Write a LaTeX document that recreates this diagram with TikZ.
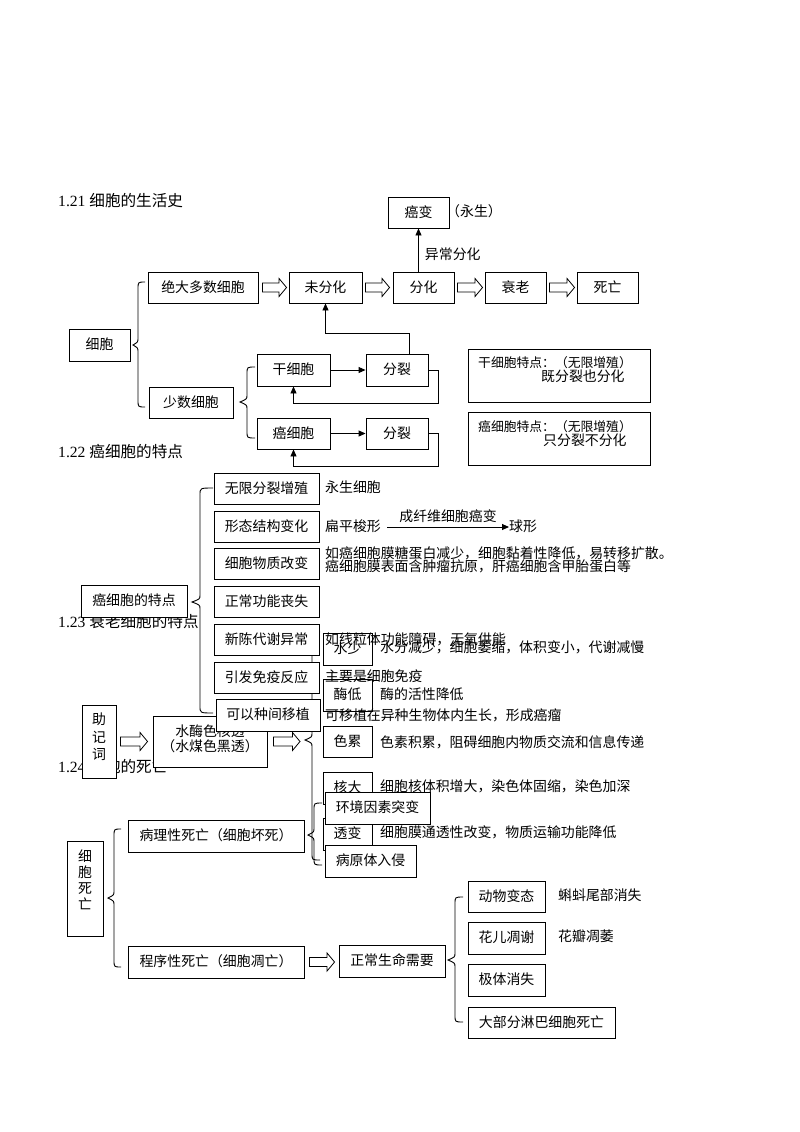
\documentclass[tikz,border=0pt]{standalone}
\usepackage{fontspec}
\setmainfont{Noto Sans CJK SC}
\newfontfamily\tnr{Liberation Serif}
\usetikzlibrary{calc,arrows.meta}
\newcommand\mkbox[6]{\node[box, minimum width={(#4-#2)*1pt}, minimum height={(#5-#3)*1pt}] (#1) at ({(#2+#4)/2},{(#3+#5)/2}) {#6};}
\newcommand\mybrace[6]{\draw[br] (#6,#4) .. controls (#3,#4) .. (#3,{#4+7}) -- (#3,{#2-7}) .. controls (#3,{#2-3}) .. (#1,#2) .. controls (#3,{#2+3}) .. (#3,{#2+7}) -- (#3,{#5-7}) .. controls (#3,#5) .. (#6,#5);}
\newcommand\hollowarrow[4]{\draw[ha] let \p1=(#1), \p2=(#2) in
 ({\x1+#3},{\y1+4.5pt}) -- ({\x2-#4-7.5pt},{\y1+4.5pt}) -- ({\x2-#4-7.5pt},{\y1+9pt}) -- ({\x2-#4},\y1) -- ({\x2-#4-7.5pt},{\y1-9pt}) -- ({\x2-#4-7.5pt},{\y1-4.5pt}) -- ({\x1+#3},{\y1-4.5pt}) -- cycle;}
\begin{document}
\begin{tikzpicture}[x=1pt,y=-1pt,
 base/.style={font=\fontsize{13.9}{16}\selectfont, text height=11pt, text depth=1.5pt, inner sep=0pt},
 box/.style={base, draw, fill=white, line width=0.9pt},
 txt/.style={base, anchor=west},
 small/.style={txt, font=\fontsize{12.8}{15}\selectfont},
 head/.style={anchor=west, inner sep=0pt, font=\fontsize{15.6}{18}\selectfont, text height=12.5pt, text depth=1.7pt},
 vt/.style={inner sep=0pt, align=center, font=\fontsize{13.9}{17.5}\selectfont},
 arr/.style={line width=0.9pt, -{Triangle[length=7pt,width=6pt]}},
 br/.style={line width=0.9pt},
 ha/.style={line width=0.8pt, fill=white}]
\fill[white] (0,0) rectangle (800,1132);
\useasboundingbox (0,0) rectangle (800,1132);

% headings
\node[head] (h1) at (58,201) {{\tnr 1.21 }细胞的生活史};
\node[head] (h2) at (58,452) {{\tnr 1.22 }癌细胞的特点};
\node[head] (h3) at (58,622) {{\tnr 1.23 }衰老细胞的特点};
\node[head] (h4) at (58,767) {{\tnr 1.24 }细胞的死亡};

% ---- 1.21 life history
\mkbox{ab}{388}{197}{449}{228}{癌变}
\node[txt] (ys) at (446,212) {（永生）};
\mkbox{jd}{148}{272}{258}{303}{绝大多数细胞}
\mkbox{wfh}{289}{272}{362}{303}{未分化}
\mkbox{fh}{393}{272}{454}{303}{分化}
\mkbox{sl}{485}{272}{546}{303}{衰老}
\mkbox{sw}{577}{272}{638}{303}{死亡}
\mkbox{xb}{69}{329}{130}{361}{细胞}
\mkbox{ss}{149}{387}{233}{418}{少数细胞}
\mkbox{gxb}{257}{354}{330}{386}{干细胞}
\mkbox{fl1}{366}{354}{428}{386}{分裂}
\mkbox{axb}{257}{418}{330}{449}{癌细胞}
\mkbox{fl2}{366}{418}{428}{449}{分裂}
\mkbox{gtd}{468}{349}{650}{402}{}
\node[small] (gt1) at (478,363) {干细胞特点：（无限增殖）};
\node[txt] (gt2) at (541,377) {既分裂也分化};
\mkbox{atd}{468}{412}{650}{465}{}
\node[small] (at1) at (478,427) {癌细胞特点：（无限增殖）};
\node[txt] (at2) at (543,441) {只分裂不分化};

\hollowarrow{jd.east}{wfh.west}{4pt}{2pt}
\hollowarrow{wfh.east}{fh.west}{3pt}{3pt}
\hollowarrow{fh.east}{sl.west}{3pt}{2pt}
\hollowarrow{sl.east}{sw.west}{3pt}{2pt}
\draw[arr] (ab.south |- fh.north) -- (ab.south) node[base, pos=0.38, right=6pt] {异常分化};
\draw[arr] (gxb.east) -- (fl1.west);
\draw[arr] (axb.east) -- (fl2.west);
\draw[arr] ($(fl1.north)+(12,0)$) -- ++(0,-20) -| (wfh.south);
\draw[arr] (fl1.east) -- ++(10,0) |- ($(gxb.south)+(0,17)$) -- (gxb.south);
\draw[arr] (fl2.east) -- ++(10,0) |- ($(axb.south)+(0,17)$) -- (axb.south);
\mybrace{133}{345}{138}{282}{407}{145}
\mybrace{240}{402}{247}{367}{438}{255}

% ---- 1.23 senescence (lower layer)
\mkbox{zjc}{82}{705}{116}{778}{}
\node[vt] (zjct) at (99,737) {助\\记\\词};
\mkbox{smh}{153}{716}{267}{767}{}
\node[base] (smh1) at (210,732) {水酶色核透};
\node[base] (smh2) at (210,747) {（水煤色黑透）};
\coordinate (sbt) at (305,740);
\hollowarrow{zjc.east}{smh.west}{4pt}{5pt}
\hollowarrow{smh.east}{sbt}{6pt}{5pt}
\mybrace{305}{740}{312}{632}{860}{320}
\mkbox{s1}{323}{633}{372}{665}{水少}
\mkbox{s2}{323}{679}{372}{711}{酶低}
\mkbox{s3}{323}{726}{372}{757}{色累}
\mkbox{s4}{323}{772}{372}{804}{核大}
\mkbox{s5}{323}{818}{372}{850}{透变}
\node[txt] (st1) at (380,648) {水分减少，细胞萎缩，体积变小，代谢减慢};
\node[txt] (st2) at (380,695) {酶的活性降低};
\node[txt] (st3) at (380,743) {色素积累，阻碍细胞内物质交流和信息传递};
\node[txt] (st4) at (380,787) {细胞核体积增大，染色体固缩，染色加深};
\node[txt] (st5) at (380,833) {细胞膜通透性改变，物质运输功能降低};

% ---- 1.22 cancer features (upper layer)
\mkbox{atz}{81}{585}{187}{617}{癌细胞的特点}
\mybrace{192}{602}{200}{488}{713}{213}
\mkbox{c1}{214}{473}{319}{504}{无限分裂增殖}
\mkbox{c2}{214}{511}{319}{542}{形态结构变化}
\mkbox{c3}{214}{548}{319}{579}{细胞物质改变}
\mkbox{c4}{214}{586}{319}{617}{正常功能丧失}
\mkbox{c5}{214}{624}{319}{655}{新陈代谢异常}
\mkbox{c6}{214}{662}{319}{693}{引发免疫反应}
\mkbox{c7}{216}{699}{320}{731}{可以种间移植}
\node[txt] (ct1) at (325,488) {永生细胞};
\node[txt] (bp) at (325,527) {扁平梭形};
\node[txt] (qx) at (509,527) {球形};
\draw[arr] ($(bp.east)+(6,0)$) -- (qx.west) node[base, midway, above=4pt] {成纤维细胞癌变};
\node[txt] (ct3a) at (325,554) {如癌细胞膜糖蛋白减少，细胞黏着性降低，易转移扩散。};
\node[txt] (ct3b) at (325,567) {癌细胞膜表面含肿瘤抗原，肝癌细胞含甲胎蛋白等};
\node[txt] (ct5) at (325,640) {如线粒体功能障碍，无氧供能};
\node[txt] (ct6) at (325,677) {主要是细胞免疫};
\node[txt] (ct7) at (325,716) {可移植在异种生物体内生长，形成癌瘤};

% ---- 1.24 cell death (top layer)
\mkbox{xbsw}{67}{841}{103}{936}{}
\node[vt, font=\fontsize{13.9}{16}\selectfont] (xbswt) at (85,880) {细\\胞\\死\\亡};
\mybrace{108}{898}{114}{829}{967}{121}
\mkbox{blx}{128}{820}{304}{852}{病理性死亡（细胞坏死）}
\mkbox{cxx}{128}{946}{304}{978}{程序性死亡（细胞凋亡）}
\mkbox{zcs}{339}{945}{445}{977}{正常生命需要}
\hollowarrow{cxx.east}{zcs.west}{5pt}{4pt}
\mybrace{308}{835}{314}{803}{865}{322}
\mkbox{hj}{325}{792}{430}{824}{环境因素突变}
\mkbox{byt}{325}{845}{416}{877}{病原体入侵}
\mybrace{448}{960}{455}{897}{1022}{463}
\mkbox{d1}{468}{881}{545}{912}{动物变态}
\mkbox{d2}{468}{922}{545}{954}{花儿凋谢}
\mkbox{d3}{468}{964}{545}{996}{极体消失}
\mkbox{d4}{468}{1007}{615}{1038}{大部分淋巴细胞死亡}
\node[txt] (dt1) at (558,896) {蝌蚪尾部消失};
\node[txt] (dt2) at (558,937) {花瓣凋萎};
\end{tikzpicture}
\end{document}
